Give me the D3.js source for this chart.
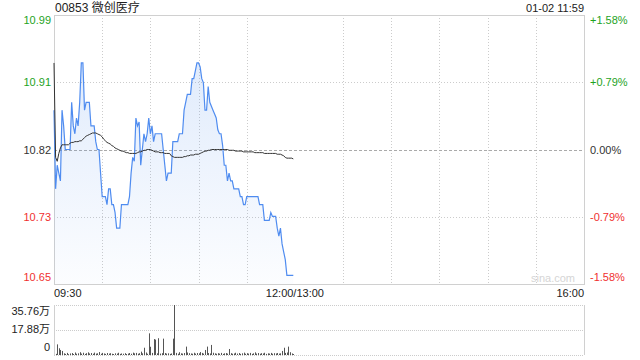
<!DOCTYPE html>
<html>
<head>
<meta charset="utf-8">
<script src="https://cdn.jsdelivr.net/npm/d3@7"></script>
<style>
    body { margin: 0; background: #fff; }
    svg text { font-family: "Liberation Sans", Arial, "Noto Sans CJK SC", sans-serif; }
</style>
</head>
<body>
<div id="chart-area"></div>
<script>
// chart values
const stockName = "00853 微创医疗";
const stamp = "01-02 11:59";
const prevClose = 10.82;
const pctTicks = [1.58, 0.79, 0, -0.79, -1.58];
const priceLabels = ["10.99", "10.91", "10.82", "10.73", "10.65"];
const pctLabels = ["+1.58%", "+0.79%", "0.00%", "-0.79%", "-1.58%"];
const timeTicks = [0, 150, 330];
const timeLabels = ["09:30", "12:00/13:00", "16:00"];
const volTicks = [35.76, 17.88, 0];
const volLabels = ["35.76万", "17.88万", "0"];

// one value per minute from 09:30
const prices = [
    10.87, 10.77, 10.80, 10.79, 10.78, 10.87, 10.85, 10.82, 10.82, 10.82,
    10.82, 10.88, 10.85, 10.84, 10.86, 10.85, 10.88, 10.93, 10.93, 10.87,
    10.88, 10.88, 10.88, 10.85, 10.85, 10.85, 10.83, 10.82, 10.82, 10.79,
    10.76, 10.76, 10.76, 10.75, 10.77, 10.77, 10.75, 10.75, 10.74, 10.72,
    10.72, 10.72, 10.75, 10.75, 10.75, 10.75, 10.75, 10.76, 10.79, 10.81,
    10.805, 10.86, 10.85, 10.855, 10.80, 10.82, 10.84, 10.83, 10.84, 10.86,
    10.84, 10.85, 10.83, 10.84, 10.84, 10.84, 10.84, 10.84, 10.82, 10.80,
    10.78, 10.79, 10.79, 10.79, 10.83, 10.83, 10.83, 10.83, 10.84, 10.84,
    10.84, 10.87, 10.88, 10.89, 10.89, 10.89, 10.91, 10.91, 10.92, 10.93,
    10.93, 10.925, 10.91, 10.905, 10.87, 10.87, 10.90, 10.88, 10.875, 10.87,
    10.865, 10.86, 10.845, 10.84, 10.84, 10.825, 10.80, 10.80, 10.78, 10.79,
    10.78, 10.78, 10.77, 10.77, 10.77, 10.77, 10.76, 10.76, 10.75, 10.75,
    10.76, 10.76, 10.76, 10.76, 10.76, 10.76, 10.76, 10.76, 10.75, 10.75,
    10.75, 10.73, 10.73, 10.73, 10.73, 10.74, 10.735, 10.735, 10.735, 10.72,
    10.71, 10.72, 10.70, 10.69, 10.68, 10.66, 10.66, 10.66, 10.66, 10.66
];
const avgPrices = [
    10.93, 10.81, 10.805, 10.815, 10.822, 10.826, 10.826, 10.826, 10.826, 10.826,
    10.828, 10.829, 10.829, 10.83, 10.83, 10.83, 10.831, 10.831, 10.833, 10.835,
    10.837, 10.838, 10.839, 10.84, 10.841, 10.841, 10.841, 10.84, 10.839, 10.838,
    10.836, 10.833, 10.831, 10.829, 10.828, 10.827, 10.825, 10.824, 10.822, 10.821,
    10.82, 10.819, 10.818, 10.818, 10.817, 10.816, 10.816, 10.815, 10.815, 10.815,
    10.815, 10.815, 10.816, 10.817, 10.817, 10.818, 10.819, 10.819, 10.82, 10.82,
    10.82, 10.819, 10.818, 10.817, 10.817, 10.817, 10.816, 10.816, 10.816, 10.815,
    10.815, 10.815, 10.815, 10.812, 10.811, 10.81, 10.81, 10.81, 10.81, 10.81,
    10.81, 10.811, 10.811, 10.812, 10.812, 10.813, 10.813, 10.813, 10.814, 10.814,
    10.814, 10.815, 10.816, 10.817, 10.818, 10.818, 10.819, 10.819, 10.82, 10.82,
    10.82, 10.82, 10.82, 10.82, 10.82, 10.82, 10.82, 10.82, 10.82, 10.819,
    10.819, 10.819, 10.819, 10.818, 10.818, 10.818, 10.818, 10.818, 10.817, 10.817,
    10.817, 10.817, 10.817, 10.817, 10.817, 10.816, 10.816, 10.816, 10.816, 10.816,
    10.816, 10.815, 10.815, 10.815, 10.815, 10.815, 10.815, 10.815, 10.815, 10.814,
    10.814, 10.814, 10.813, 10.812, 10.81, 10.809, 10.809, 10.809, 10.809, 10.808
];
// volume in 万
const volumes = [
    0, 0.8, 7.6, 4.8, 3.6, 2.9, 1.2, 0.8, 1.5, 0.6,
    1.1, 1.4, 0.7, 1.8, 0.9, 1.2, 2.0, 1.0, 1.6, 0.8,
    1.3, 1.9, 1.1, 1.4, 0.9, 1.7, 1.0, 1.2, 2.1, 0.9,
    1.5, 1.1, 0.8, 1.4, 1.0, 1.3, 0.9, 0.7, 1.2, 1.0,
    1.6, 0.8, 1.1, 0.9, 1.3, 0.7, 1.0, 1.4, 0.9, 1.7,
    1.2, 1.5, 0.9, 1.3, 2.4, 1.2, 5.2, 1.8, 0.9, 15.5,
    5.9, 1.5, 11.4, 11.0, 1.2, 12.0, 1.0, 1.3, 11.7, 1.4,
    1.0, 1.2, 0.8, 1.1, 11.7, 35.76, 1.5, 0.9, 2.0, 1.2,
    1.0, 1.4, 6.0, 1.8, 1.3, 1.1, 0.9, 1.6, 1.0, 1.4,
    1.2, 2.1, 1.5, 1.0, 3.6, 6.0, 1.4, 1.1, 7.2, 1.6,
    1.2, 0.9, 1.3, 1.0, 1.5, 0.8, 1.2, 1.4, 1.0, 4.3,
    1.3, 0.9, 1.1, 1.6, 1.0, 1.4, 0.8, 1.2, 1.7, 0.9,
    1.3, 1.0, 1.5, 0.8, 1.2, 1.9, 1.0, 1.4, 0.9, 1.3,
    1.1, 1.6, 0.8, 1.2, 1.0, 1.5, 0.9, 1.3, 1.1, 1.4,
    1.0, 1.2, 2.9, 5.2, 1.5, 1.8, 6.0, 2.0, 1.1, 0.7
];

IntradayChart = function(_parentElement) {
    this.parentElement = _parentElement;
    this.initVis();
}

IntradayChart.prototype.initVis = function() {
    let vis = this;

    vis.width = 640;
    vis.height = 360;
    vis.main = { left: 54, right: 584, top: 15, bottom: 284 };
    vis.vol = { top: 305, bottom: 355 };

    vis.svg = d3.select("#" + vis.parentElement)
        .append("svg")
        .attr("width", vis.width)
        .attr("height", vis.height);

    vis.x = d3.scaleLinear().domain([0, 330]).range([vis.main.left, vis.main.right]);
    vis.yPct = d3.scaleLinear().domain([-1.58, 1.58]).range([vis.main.bottom, vis.main.top]);
    vis.yPrice = d3.scaleLinear()
        .domain([prevClose * (1 - 0.0158), prevClose * (1 + 0.0158)])
        .range([vis.main.bottom, vis.main.top]);
    vis.yVol = d3.scaleLinear().domain([0, 35.76]).range([vis.vol.bottom, vis.vol.top]);

    let grad = vis.svg.append("defs").append("linearGradient")
        .attr("id", "area-fill")
        .attr("gradientUnits", "userSpaceOnUse")
        .attr("x1", 0).attr("y1", vis.main.top)
        .attr("x2", 0).attr("y2", vis.main.bottom);
    grad.append("stop").attr("offset", 0).attr("stop-color", "#5b95ee").attr("stop-opacity", 0.22);
    grad.append("stop").attr("offset", 1).attr("stop-color", "#5b95ee").attr("stop-opacity", 0.02);

    vis.wrangleData();
}

IntradayChart.prototype.wrangleData = function() {
    let vis = this;

    vis.priceData = prices.map((p, i) => ({ m: i, p: p }));
    vis.avgData = avgPrices.map((p, i) => ({ m: i, p: p }));
    vis.volData = volumes.map((v, i) => ({ m: i, v: v }));

    vis.updateVis();
}

IntradayChart.prototype.updateVis = function() {
    let vis = this;
    let m = vis.main;
    let colorOf = (t) => t > 0 ? "#1ea31e" : (t < 0 ? "#f0302f" : "#333");

    // grid of main panel
    let vLines = d3.range(1, 11).filter((k) => k != 5).map((k) => k * 30);
    vis.svg.append("g").selectAll("line")
        .data(vLines)
        .enter()
        .append("line")
        .attr("x1", (d) => Math.round(vis.x(d)) + 0.5)
        .attr("x2", (d) => Math.round(vis.x(d)) + 0.5)
        .attr("y1", m.top)
        .attr("y2", m.bottom)
        .attr("stroke", "#ccc")
        .attr("stroke-dasharray", "1,2");

    vis.svg.append("g").selectAll("line")
        .data([0.79, -0.79])
        .enter()
        .append("line")
        .attr("x1", m.left)
        .attr("x2", m.right)
        .attr("y1", (d) => Math.round(vis.yPct(d)) + 0.5)
        .attr("y2", (d) => Math.round(vis.yPct(d)) + 0.5)
        .attr("stroke", "#ccc")
        .attr("stroke-dasharray", "1,2");

    vis.svg.append("line")
        .attr("x1", m.left)
        .attr("x2", m.right)
        .attr("y1", Math.round(vis.yPct(0)) + 0.5)
        .attr("y2", Math.round(vis.yPct(0)) + 0.5)
        .attr("stroke", "#aaa")
        .attr("stroke-dasharray", "3,2");

    vis.svg.append("rect")
        .attr("x", m.left + 0.5)
        .attr("y", m.top + 0.5)
        .attr("width", m.right - m.left)
        .attr("height", m.bottom - m.top)
        .attr("fill", "none")
        .attr("stroke", "#d0d0d0");

    // watermark
    vis.svg.append("text")
        .attr("x", m.right - 9)
        .attr("y", m.bottom - 2)
        .attr("text-anchor", "end")
        .attr("font-size", 11)
        .attr("fill", "#d5d5d5")
        .text("sina.com");

    // price area and lines
    let area = d3.area()
        .x((d) => vis.x(d.m))
        .y0(m.bottom)
        .y1((d) => vis.yPrice(d.p));
    let line = d3.line()
        .x((d) => vis.x(d.m))
        .y((d) => vis.yPrice(d.p));

    vis.svg.append("path")
        .datum(vis.priceData)
        .attr("d", area)
        .attr("fill", "url(#area-fill)");

    vis.svg.append("path")
        .datum(vis.priceData)
        .attr("d", line)
        .attr("fill", "none")
        .attr("stroke", "#4f8cf0")
        .attr("stroke-width", 1.2);

    vis.svg.append("path")
        .datum(vis.avgData)
        .attr("d", line)
        .attr("fill", "none")
        .attr("stroke", "#333")
        .attr("stroke-width", 1);

    // axis labels
    let labelY = (i, n) => {
        let y = vis.yPct(pctTicks[i]);
        if (i == 0) return y + 9;
        if (i == n - 1) return y - 3;
        return y + 4;
    };

    vis.svg.append("g").selectAll("text")
        .data(priceLabels)
        .enter()
        .append("text")
        .attr("x", 51)
        .attr("y", (d, i) => labelY(i, priceLabels.length))
        .attr("text-anchor", "end")
        .attr("font-size", 11)
        .attr("fill", (d, i) => colorOf(pctTicks[i]))
        .text((d) => d);

    vis.svg.append("g").selectAll("text")
        .data(pctLabels)
        .enter()
        .append("text")
        .attr("x", 590)
        .attr("y", (d, i) => labelY(i, pctLabels.length))
        .attr("font-size", 11)
        .attr("fill", (d, i) => colorOf(pctTicks[i]))
        .text((d) => d);

    vis.svg.append("g").selectAll("text")
        .data(timeLabels)
        .enter()
        .append("text")
        .attr("x", (d, i) => vis.x(timeTicks[i]))
        .attr("y", 297)
        .attr("text-anchor", (d, i) => i == 0 ? "start" : (i == timeLabels.length - 1 ? "end" : "middle"))
        .attr("font-size", 11)
        .attr("fill", "#222")
        .text((d) => d);

    vis.svg.append("text")
        .attr("x", m.left + 1)
        .attr("y", 12)
        .attr("font-size", 12)
        .attr("fill", "#222")
        .text(stockName);

    vis.svg.append("text")
        .attr("x", m.right)
        .attr("y", 12)
        .attr("text-anchor", "end")
        .attr("font-size", 11)
        .attr("fill", "#222")
        .text(stamp);

    // volume panel
    vis.svg.append("g").selectAll("line")
        .data(volTicks)
        .enter()
        .append("line")
        .attr("x1", m.left)
        .attr("x2", m.right)
        .attr("y1", (d) => Math.round(vis.yVol(d)) + 0.5)
        .attr("y2", (d) => Math.round(vis.yVol(d)) + 0.5)
        .attr("stroke", "#ccc")
        .attr("stroke-dasharray", "1,1");

    vis.svg.append("g").selectAll("line")
        .data([m.left, m.right])
        .enter()
        .append("line")
        .attr("x1", (d) => d + 0.5)
        .attr("x2", (d) => d + 0.5)
        .attr("y1", vis.vol.top)
        .attr("y2", vis.vol.bottom)
        .attr("stroke", "#d0d0d0");

    vis.svg.append("g").selectAll("rect")
        .data(vis.volData.filter((d) => d.v > 0))
        .enter()
        .append("rect")
        .attr("x", (d) => Math.round(vis.x(d.m)))
        .attr("width", 1)
        .attr("y", (d) => vis.yVol(d.v))
        .attr("height", (d) => vis.vol.bottom - vis.yVol(d.v))
        .attr("fill", "#555");

    vis.svg.append("g").selectAll("text")
        .data(volLabels)
        .enter()
        .append("text")
        .attr("x", 50)
        .attr("y", (d, i) => [315, 333, 351][i])
        .attr("text-anchor", "end")
        .attr("font-size", 11)
        .attr("fill", "#222")
        .text((d) => d);
}

let chart = new IntradayChart("chart-area");
</script>
</body>
</html>
